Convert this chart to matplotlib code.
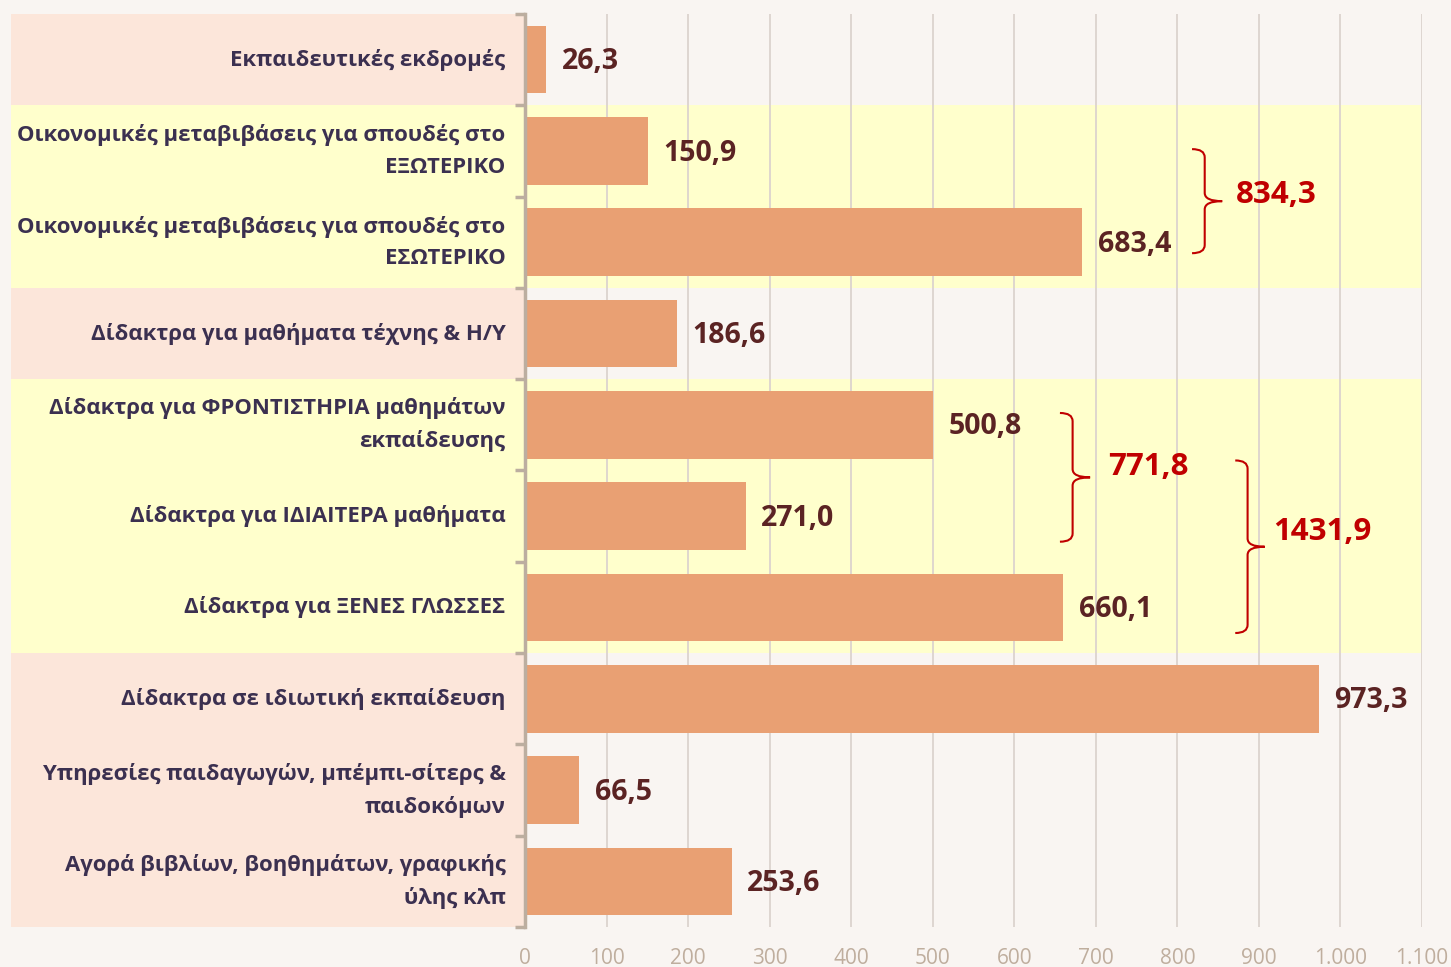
import matplotlib.pyplot as plt
from matplotlib.path import Path
from matplotlib.patches import PathPatch, Rectangle
from matplotlib.transforms import blended_transform_factory

plt.rcParams['font.family'] = ['Open Sans', 'DejaVu Sans']

categories = [
    "Εκπαιδευτικές εκδρομές",
    "Οικονομικές μεταβιβάσεις για σπουδές στο\nΕΞΩΤΕΡΙΚΟ",
    "Οικονομικές μεταβιβάσεις για σπουδές στο\nΕΣΩΤΕΡΙΚΟ",
    "Δίδακτρα για μαθήματα τέχνης & Η/Υ",
    "Δίδακτρα για ΦΡΟΝΤΙΣΤΗΡΙΑ μαθημάτων\nεκπαίδευσης",
    "Δίδακτρα για ΙΔΙΑΙΤΕΡΑ μαθήματα",
    "Δίδακτρα για ΞΕΝΕΣ ΓΛΩΣΣΕΣ",
    "Δίδακτρα σε ιδιωτική εκπαίδευση",
    "Υπηρεσίες παιδαγωγών, μπέμπι-σίτερς &\nπαιδοκόμων",
    "Αγορά βιβλίων, βοηθημάτων, γραφικής\nύλης κλπ",
]
values = [26.3, 150.9, 683.4, 186.6, 500.8, 271.0, 660.1, 973.3, 66.5, 253.6]
x_ticks = list(range(0, 1101, 100))

# background bands: first row, last row, colour
bands = [(0, 0, "#FCE6DA"), (1, 2, "#FFFFCC"), (3, 3, "#FCE6DA"),
         (4, 6, "#FFFFCC"), (7, 9, "#FCE6DA")]

# braces: rows summed, brace box (x0, x1, y0, y1), label position (x, y)
brace_rows = [[1, 2], [4, 5], [4, 5, 6]]
brace_boxes = [(818, 855, 0.98, 2.12), (656, 693, 3.87, 5.28), (871, 907, 4.39, 6.28)]
brace_text = [(872, 1.48), (715, 4.46), (917, 5.17)]

BG = "#F9F5F2"
BAR = "#E9A073"
SPINE = "#BCAEA0"
RED = "#C00000"


def fmt_thousands(v):
    return f"{v:,}".replace(",", ".")


def draw_brace(ax, x0, x1, y0, y1, color):
    xm = x0 + 0.42 * (x1 - x0)
    ym = (y0 + y1) / 2
    dy = 0.09
    verts = [(x0, y0), (xm, y0), (xm, y0 + dy), (xm, ym - dy), (xm, ym), (x1, ym),
             (xm, ym), (xm, ym + dy), (xm, y1 - dy), (xm, y1), (x0, y1)]
    codes = [Path.MOVETO, Path.CURVE3, Path.CURVE3, Path.LINETO, Path.CURVE3, Path.CURVE3,
             Path.CURVE3, Path.CURVE3, Path.LINETO, Path.CURVE3, Path.CURVE3]
    ax.add_patch(PathPatch(Path(verts, codes), fill=False, edgecolor=color,
                           linewidth=1.5, zorder=4, clip_on=False))


fig = plt.figure(figsize=(14.51, 9.67), dpi=100, facecolor=BG)
ax = fig.add_axes([525 / 1451, 1 - 927 / 967, (1422 - 525) / 1451, (927 - 14) / 967])
ax.set_facecolor(BG)

rows = list(range(len(categories)))

# bands reach into the label area on the left
trans = blended_transform_factory(fig.transFigure, ax.transData)
for r0, r1, col in bands:
    right = 1422 / 1451 if col == "#FFFFCC" else 524 / 1451
    ax.add_patch(Rectangle((11 / 1451, r0 - 0.5), right - 11 / 1451, r1 - r0 + 1,
                           transform=trans, facecolor=col, edgecolor="none",
                           zorder=0, clip_on=False))

ax.barh(rows, values, height=0.74, color=BAR, zorder=2)

for r, v in zip(rows, values):
    ax.annotate(f"{v:.1f}".replace(".", ","), (v, r), xytext=(11, -1.5),
                textcoords="offset points", va="center", ha="left",
                fontsize=20.5, fontweight="bold", color="#5B2323", zorder=3)

for grp, (x0, x1, y0, y1), (tx, ty) in zip(brace_rows, brace_boxes, brace_text):
    draw_brace(ax, x0, x1, y0, y1, RED)
    total = sum(values[i] for i in grp)
    ax.text(tx, ty, f"{total:.1f}".replace(".", ","), va="center", ha="left",
            fontsize=22.5, fontweight="bold", color=RED, zorder=4)

ax.set_xlim(0, 1100)
ax.set_ylim(9.5, -0.5)

ax.set_xticks(x_ticks, labels=[fmt_thousands(t) for t in x_ticks])
ax.tick_params(axis="x", length=0, pad=15, labelsize=15, labelcolor="#BFAE9E")
ax.grid(axis="x", color="#DCD3CE", linewidth=1.3)
ax.set_axisbelow(True)

ax.set_yticks(rows, labels=categories)
ax.set_yticks([r - 0.5 for r in rows] + [9.5], minor=True)
ax.tick_params(axis="y", which="major", length=0, pad=14, labelsize=15.9,
               labelcolor="#3B3050")
ax.tick_params(axis="y", which="minor", length=7, width=2.5, color=SPINE)
for lbl in ax.get_yticklabels():
    lbl.set_fontweight("bold")
    lbl.set_linespacing(1.65)
    lbl.set_verticalalignment("center")

for s in ["top", "right", "bottom"]:
    ax.spines[s].set_visible(False)
ax.spines["left"].set_color(SPINE)
ax.spines["left"].set_linewidth(2.5)

fig.savefig("out.png", dpi=100, facecolor=BG)
